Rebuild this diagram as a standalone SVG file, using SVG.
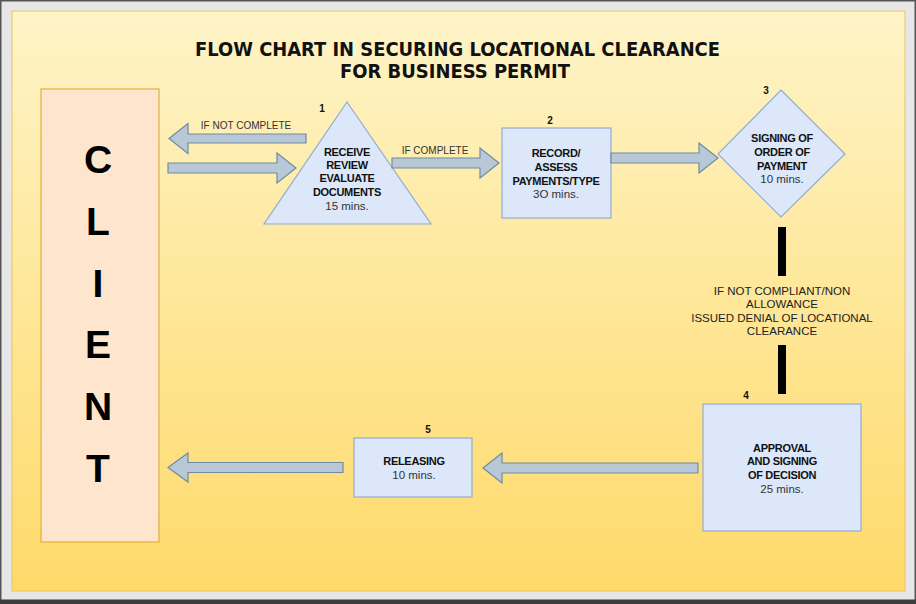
<svg xmlns="http://www.w3.org/2000/svg" width="916" height="604" viewBox="0 0 916 604">
<defs>
<linearGradient id="bg" x1="0" y1="0" x2="0" y2="1">
<stop offset="0" stop-color="#fef4c8"/>
<stop offset="1" stop-color="#ffda6a"/>
</linearGradient>
<style>
.node{fill:#dce7f9;stroke:#93acd0;stroke-width:1.2}
.arr{fill:#b9c8d6;stroke:#6f8ba3;stroke-width:1.2}
.t{font-family:"Liberation Sans",Arial,sans-serif;text-anchor:middle}
.b{font-size:11px;font-weight:bold;fill:#111;letter-spacing:-0.3px}
.m{font-size:11.5px;fill:#333}
.num{font-size:10px;font-weight:bold;fill:#111}
.lab{font-size:10px;fill:#333}
.client{font-size:39px;font-weight:bold;fill:#000}
.title{font-family:"DejaVu Sans Condensed","DejaVu Sans",sans-serif;font-weight:bold;font-size:19px;fill:#111;text-anchor:middle}
.note{font-size:11.5px;fill:#222}
</style>
</defs>
<rect x="0" y="0" width="916" height="604" fill="#e7e7e7"/>
<rect x="0" y="0" width="916" height="1.5" fill="#555"/>
<rect x="0" y="0" width="1.5" height="604" fill="#555"/>
<rect x="914.5" y="0" width="1.5" height="604" fill="#555"/>
<rect x="0" y="599.5" width="916" height="4.5" fill="#3c3c3c"/>
<rect x="12" y="11" width="893" height="580" fill="url(#bg)" stroke="#e8c46a" stroke-width="1"/>

<g id="title">
<text class="title" x="457.5" y="56" textLength="525" lengthAdjust="spacingAndGlyphs">FLOW CHART IN SECURING LOCATIONAL CLEARANCE</text>
<text class="title" x="455" y="78" textLength="230" lengthAdjust="spacingAndGlyphs">FOR BUSINESS PERMIT</text>
</g>

<g id="client">
<rect x="41" y="89" width="118" height="453" fill="#fde6cd" stroke="#e2b13d" stroke-width="1.2"/>
<text class="t client" x="98" y="173">C</text>
<text class="t client" x="98" y="235">L</text>
<text class="t client" x="98" y="297">I</text>
<text class="t client" x="98" y="358">E</text>
<text class="t client" x="98" y="420">N</text>
<text class="t client" x="98" y="482">T</text>
</g>

<g id="node1">
<polygon class="node" points="347,102 431,224 264,224"/>
<text class="t num" x="322" y="112">1</text>
<text class="t b" x="347" y="156">RECEIVE</text>
<text class="t b" x="347" y="169">REVIEW</text>
<text class="t b" x="347" y="182">EVALUATE</text>
<text class="t b" x="347" y="196">DOCUMENTS</text>
<text class="t m" x="347" y="210">15 mins.</text>
</g>

<g id="node2">
<rect class="node" x="502" y="128" width="109" height="90"/>
<text class="t num" x="550" y="124">2</text>
<text class="t b" x="556" y="157">RECORD/</text>
<text class="t b" x="556" y="171">ASSESS</text>
<text class="t b" x="556" y="185">PAYMENTS/TYPE</text>
<text class="t m" x="556" y="198">3O mins.</text>
</g>

<g id="node3">
<polygon class="node" points="781,90 845,154 781,217 718,154"/>
<text class="t num" x="766" y="94">3</text>
<text class="t b" x="782" y="142">SIGNING OF</text>
<text class="t b" x="782" y="156">ORDER OF</text>
<text class="t b" x="782" y="170">PAYMENT</text>
<text class="t m" x="782" y="183">10 mins.</text>
</g>

<g id="node4">
<rect class="node" x="703" y="404" width="158" height="127"/>
<text class="t num" x="746" y="399">4</text>
<text class="t b" x="782" y="452">APPROVAL</text>
<text class="t b" x="782" y="465">AND SIGNING</text>
<text class="t b" x="782" y="479">OF DECISION</text>
<text class="t m" x="782" y="493">25 mins.</text>
</g>

<g id="node5">
<rect class="node" x="354" y="438" width="118" height="59"/>
<text class="t num" x="428" y="433">5</text>
<text class="t b" x="414" y="465">RELEASING</text>
<text class="t m" x="414" y="479">10 mins.</text>
</g>

<g id="connectors">
<path class="arr" d="M169,138.5 L188,123.5 L188,134 L306,134 L306,143 L188,143 L188,153.5 Z"/>
<text class="t lab" x="246" y="129">IF NOT COMPLETE</text>
<path class="arr" d="M168,163 L277,163 L277,153 L296,168 L277,183 L277,173 L168,173 Z"/>
<path class="arr" d="M392,158 L480,158 L480,148 L499,163 L480,178 L480,168 L392,168 Z"/>
<text class="t lab" x="435" y="154">IF COMPLETE</text>
<path class="arr" d="M611,153 L699,153 L699,143 L718,158 L699,173 L699,163 L611,163 Z"/>
<rect x="778" y="227" width="8" height="49" fill="#000"/>
<rect x="778" y="345" width="8" height="49" fill="#000"/>
<text class="t note" x="782" y="295">IF NOT COMPLIANT/NON</text>
<text class="t note" x="782" y="308">ALLOWANCE</text>
<text class="t note" x="782" y="322">ISSUED DENIAL OF LOCATIONAL</text>
<text class="t note" x="782" y="335">CLEARANCE</text>
<path class="arr" d="M698,463 L502,463 L502,453 L483,468 L502,483 L502,473 L698,473 Z"/>
<path class="arr" d="M343,462.5 L188,462.5 L188,453 L168,467.5 L188,482 L188,472.5 L343,472.5 Z"/>
</g>
</svg>
